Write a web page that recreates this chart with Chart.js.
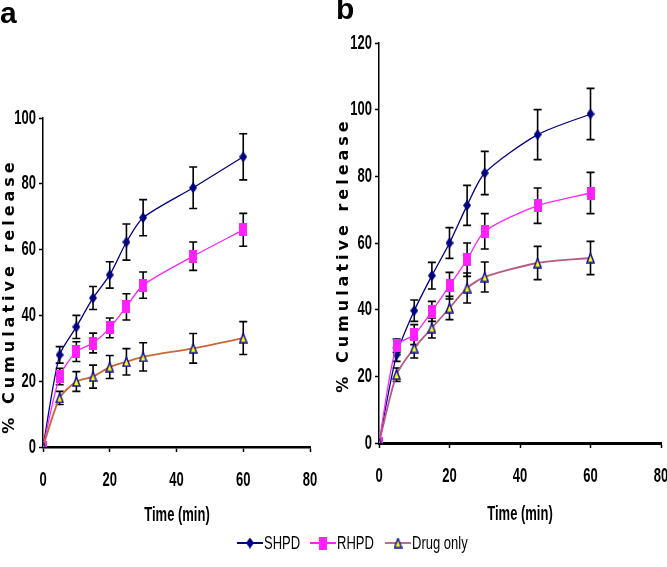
<!DOCTYPE html>
<html>
<head>
<meta charset="utf-8">
<script src="https://cdn.jsdelivr.net/npm/chart.js@4.4.1/dist/chart.umd.min.js"></script>
<style>
  body { margin: 0; background: #fff; }
  #wrap { position: relative; width: 667px; height: 567px; overflow: hidden; }
  #wrap canvas.plot { position: absolute; left: 0; top: 0; }
  .panel { position: absolute; font: bold 30px "Liberation Sans", Arial, sans-serif; color: #000; line-height: 1; }
  .leg { position: absolute; top: 535px; height: 16px; }
  .leg canvas { position: absolute; left: 0; top: 0; }
  .leg span { position: absolute; top: 0; font: 13px "Liberation Sans Narrow", "Arial Narrow", sans-serif;
              transform: scaleY(1.4); transform-origin: 0 50%; line-height: 16px; white-space: nowrap; }
</style>
</head>
<body>
<div id="wrap">
  <canvas id="chartA" class="plot" width="667" height="567"></canvas>
  <canvas id="chartB" class="plot" width="667" height="567"></canvas>
  <div class="panel" style="left:0px;top:-2px">a</div>
  <div class="panel" style="left:336px;top:-6px">b</div>
  <div id="legend"></div>
</div>
<script>
// time points (min)
const times = [0, 5, 10, 15, 20, 25, 30, 45, 60];

// panel a
const shpdA    = [0, 28, 36.5, 45.3, 52.3, 62.3, 69.7, 78.8, 88.2];
const shpdAErr = [0, 2.5, 3.5, 3.5, 4, 5.5, 5.5, 6.3, 7];
const rhpdA    = [0, 21.4, 29, 31.6, 36.2, 42.6, 49.2, 58, 66];
const rhpdAErr = [0, 2.5, 3, 3, 3, 4, 4, 4.3, 5];
const drugA    = [0, 14.9, 19.9, 21.4, 24.3, 25.9, 27.4, 30, 33.1];
const drugAErr = [0, 2, 3, 3.5, 3.5, 4, 4.3, 4.5, 5];

// panel b
const shpdB    = [0, 26.5, 39.7, 50.2, 60, 71.3, 81, 92.5, 98.7];
const shpdBErr = [0, 2, 3.2, 4, 4.6, 6, 6.5, 7.5, 7.7];
const rhpdB    = [0, 29.2, 32.5, 39.5, 47.2, 55, 63.5, 71.2, 75];
const rhpdBErr = [0, 2, 3, 3, 4, 5, 5.3, 5.3, 6.2];
const drugB    = [0, 20.5, 28.5, 34.5, 40.5, 46.5, 49.8, 54, 55.5];
const drugBErr = [0, 2, 3, 3, 3.5, 4.5, 4.5, 5, 5];

const seriesNames = ['SHPD', 'RHPD', 'Drug only'];
const xTicks = [0, 20, 40, 60, 80];
const yTicksA = [0, 20, 40, 60, 80, 100];
const yTicksB = [0, 20, 40, 60, 80, 100, 120];

const navy = '#000080';
const magenta = '#ff22ff';
const drugLineA = '#cc6633';
const drugLineB = '#b55a82';

function makeMarker(kind, w, h) {
  const c = document.createElement('canvas');
  c.width = w; c.height = h;
  const g = c.getContext('2d');
  g.beginPath();
  if (kind === 'diamond') {
    g.moveTo(w / 2, 0); g.lineTo(w, h / 2); g.lineTo(w / 2, h); g.lineTo(0, h / 2); g.closePath();
    g.fillStyle = navy; g.fill();
  } else if (kind === 'rect') {
    g.fillStyle = magenta; g.fillRect(0, 0, w, h);
  } else {
    g.moveTo(w / 2, 1); g.lineTo(w - 1, h - 1); g.lineTo(1, h - 1); g.closePath();
    g.fillStyle = '#ffff00'; g.fill();
    g.lineWidth = 1.5; g.strokeStyle = '#1010a0'; g.stroke();
  }
  return c;
}

const diamond = makeMarker('diamond', 8, 11);
const rectM = makeMarker('rect', 8, 13);
const tri = makeMarker('tri', 9, 11);

function pts(arr) { return times.map((t, i) => ({ x: t, y: arr[i] })); }

function stretchText(ctx, txt, x, y, align, font, sy) {
  ctx.save();
  ctx.translate(x, y);
  ctx.scale(1, sy);
  ctx.font = font;
  ctx.fillStyle = '#000';
  ctx.textAlign = align;
  ctx.textBaseline = 'middle';
  ctx.fillText(txt, 0, 0);
  ctx.restore();
}

// error bars + stretched narrow tick labels and titles
const decor = {
  id: 'decor',
  beforeDatasetsDraw(chart) {
    const ctx = chart.ctx, xs = chart.scales.x, ys = chart.scales.y;
    ctx.save();
    ctx.strokeStyle = '#000';
    ctx.lineWidth = 1.6;
    chart.data.datasets.forEach(ds => {
      ds.err.forEach((e, i) => {
        if (!e) return;
        const px = xs.getPixelForValue(ds.data[i].x);
        const top = ys.getPixelForValue(ds.data[i].y + e);
        const bot = ys.getPixelForValue(ds.data[i].y - e);
        ctx.beginPath();
        ctx.moveTo(px, top); ctx.lineTo(px, bot);
        ctx.moveTo(px - 4, top); ctx.lineTo(px + 4, top);
        ctx.moveTo(px - 4, bot); ctx.lineTo(px + 4, bot);
        ctx.stroke();
      });
    });
    ctx.restore();
  },
  afterDraw(chart) {
    const ctx = chart.ctx, xs = chart.scales.x, ys = chart.scales.y;
    const o = chart.options.plugins.decor;
    const tickFont = 'bold 13px "Liberation Sans Narrow", "Arial Narrow", sans-serif';
    ys.ticks.forEach((t, i) => {
      stretchText(ctx, String(t.value), ys.right - 7, ys.getPixelForTick(i), 'right', tickFont, 1.55);
    });
    xs.ticks.forEach((t, i) => {
      stretchText(ctx, String(t.value), xs.getPixelForTick(i), xs.top + 33, 'center', tickFont, 1.55);
    });
    stretchText(ctx, o.xTitle, o.xTitleX, o.xTitleY, 'center',
      'bold 13px "Liberation Sans Narrow", "Arial Narrow", sans-serif', 1.55);
    ctx.save();
    ctx.translate(o.yTitleX, o.yTitleY);
    ctx.rotate(-Math.PI / 2);
    ctx.font = 'bold 16px "DejaVu Sans", sans-serif';
    ctx.letterSpacing = '4px';
    ctx.fillStyle = '#000';
    ctx.textAlign = 'center';
    ctx.textBaseline = 'middle';
    ctx.fillText(o.yTitle, 0, 0);
    ctx.restore();
  }
};

function makeChart(id, s, d, yMax, yTickVals, pad, yW, drugLine, titles, axW) {
  const mk = (label, arr, err, color, marker, w) => ({
    label, data: pts(arr), err,
    borderColor: color, borderWidth: w, backgroundColor: color,
    pointStyle: marker, tension: 0.25, fill: false
  });
  return new Chart(document.getElementById(id), {
    type: 'line',
    data: {
      datasets: [
        mk(seriesNames[2], d[0], d[1], drugLine, tri, 1.8),
        mk(seriesNames[1], s[1][0], s[1][1], magenta, rectM, 1.3),
        mk(seriesNames[0], s[0][0], s[0][1], navy, diamond, 1.3)
      ]
    },
    options: {
      responsive: false,
      animation: false,
      layout: { padding: pad },
      plugins: { legend: { display: false }, tooltip: { enabled: false }, decor: titles },
      scales: {
        x: {
          type: 'linear', min: 0, max: 80,
          afterBuildTicks: sc => { sc.ticks = xTicks.map(v => ({ value: v })); },
          afterFit: sc => { sc.height = 30; },
          ticks: { display: false },
          grid: { drawOnChartArea: false, tickLength: 5, tickColor: '#000', tickWidth: 1.5 },
          border: { color: '#000', width: axW }
        },
        y: {
          min: 0, max: yMax,
          afterBuildTicks: sc => { sc.ticks = yTickVals.map(v => ({ value: v })); },
          afterFit: sc => { sc.width = yW; },
          ticks: { display: false },
          grid: { drawOnChartArea: false, tickLength: 4, tickColor: '#000', tickWidth: 1.5 },
          border: { color: '#000', width: 1.5 }
        }
      }
    },
    plugins: [decor]
  });
}

makeChart('chartA',
  [[shpdA, shpdAErr], [rhpdA, rhpdAErr]], [drugA, drugAErr],
  100, yTicksA, { left: 0, top: 118, right: 357, bottom: 90 }, 43, drugLineA,
  { xTitle: 'Time (min)', xTitleX: 177, xTitleY: 515, yTitle: '% Cumulative release', yTitleX: 10, yTitleY: 296 }, 2.5);

makeChart('chartB',
  [[shpdB, shpdBErr], [rhpdB, rhpdBErr]], [drugB, drugBErr],
  120, yTicksB, { left: 333, top: 43, right: 6, bottom: 94 }, 46, drugLineB,
  { xTitle: 'Time (min)', xTitleX: 520, xTitleY: 514, yTitle: '% Cumulative release', yTitleX: 344, yTitleY: 255 }, 3);

// legend
const legItems = [
  { name: seriesNames[0], color: navy, marker: diamond, left: 237 },
  { name: seriesNames[1], color: magenta, marker: rectM, left: 310 },
  { name: seriesNames[2], color: '#c06a90', marker: tri, left: 385 }
];
const legend = document.getElementById('legend');
legItems.forEach(it => {
  const d = document.createElement('div');
  d.className = 'leg';
  d.style.left = it.left + 'px';
  const c = document.createElement('canvas');
  c.width = 26; c.height = 16;
  const g = c.getContext('2d');
  g.strokeStyle = it.color; g.lineWidth = 2;
  g.beginPath(); g.moveTo(0, 8); g.lineTo(26, 8); g.stroke();
  g.drawImage(it.marker, 13 - it.marker.width / 2, 8 - it.marker.height / 2);
  d.appendChild(c);
  const s = document.createElement('span');
  s.style.left = '27px';
  s.textContent = it.name;
  d.appendChild(s);
  legend.appendChild(d);
});
</script>
</body>
</html>
